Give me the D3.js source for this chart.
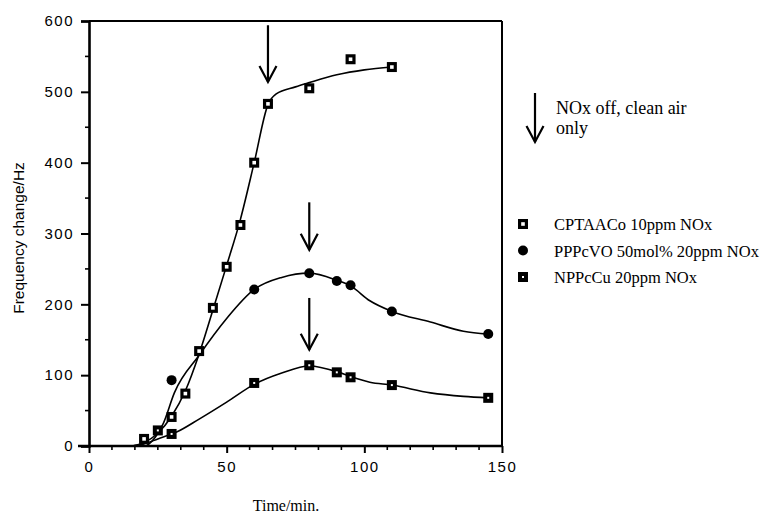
<!DOCTYPE html>
<html><head><meta charset="utf-8">
<script src="https://cdn.jsdelivr.net/npm/d3@7"></script>
<style>body{margin:0;background:#fff}svg{display:block}</style>
</head><body><svg id="c" width="769" height="515"></svg>
<script>
// ---- data ----
const seriesNames = ["CPTAACo 10ppm NOx", "PPPcVO 50mol% 20ppm NOx", "NPPcCu 20ppm NOx"];
const cptTime = [20, 30, 35, 40, 45, 50, 55, 60, 65, 80, 95, 110];
const cptFreq = [10, 41, 74, 134, 195, 253, 312, 400, 483, 505, 546, 535];
const pppTime = [30, 60, 80, 90, 95, 110, 145];
const pppFreq = [93, 221, 244, 233, 227, 190, 158];
const nppTime = [25, 30, 60, 80, 90, 95, 110, 145];
const nppFreq = [22, 17, 89, 114, 104, 97, 86, 68];
// fitted curves
const cptFitT = [8, 15, 20, 25, 30, 35, 40, 45, 50, 55, 60, 65, 68, 75, 80, 90, 100, 110];
const cptFitF = [0, 0, 5, 18, 42, 78, 130, 192, 255, 320, 400, 482, 497, 507, 513, 524, 531, 535];
const pppFitT = [8, 20, 24, 27, 31, 40, 50, 60, 70, 80, 90, 95, 102, 110, 124, 136, 145];
const pppFitF = [0, 0, 12, 32, 75, 128, 180, 221, 238, 244, 234, 226, 205, 190, 175, 162, 158];
const nppFitT = [8, 15, 20, 25, 32, 40, 50, 60, 70, 80, 90, 95, 102, 110, 124, 136, 145];
const nppFitF = [0, 0, 3, 10, 20, 38, 62, 87, 103, 113, 105, 98, 90, 86, 75, 70, 68];
const arrowTimes = [65, 80, 80];
const arrowFrom = [594, 344, 209];
const arrowTo = [514, 277, 136];
const xTicks = [0, 50, 100, 150];
const yTicks = [0, 100, 200, 300, 400, 500, 600];
const xTitle = "Time/min.";
const yTitle = "Frequency change/Hz";
const noteLines = ["NOx off, clean air", "only"];

// ---- drawing ----
const svg = d3.select("#c");
const x = d3.scaleLinear().domain([0, 150]).range([89, 502]);
const y = d3.scaleLinear().domain([0, 600]).range([446, 21]);

const sansTick = "'Liberation Sans', Arial, sans-serif";
const serif = "'Liberation Serif', 'Times New Roman', serif";

// frame top and right
svg.append("line").attr("x1", x(0)).attr("x2", x(150)).attr("y1", y(600)).attr("y2", y(600)).attr("stroke", "#000").attr("stroke-width", 2);
svg.append("line").attr("x1", x(150)).attr("x2", x(150)).attr("y1", y(600)).attr("y2", y(0)).attr("stroke", "#000").attr("stroke-width", 2);

// minor ticks
const xMinor = d3.range(0, 151, 25 / 3).filter(v => Math.abs(v / 50 - Math.round(v / 50)) > 1e-6);
svg.append("g").selectAll("line").data(xMinor).join("line")
  .attr("x1", d => x(d)).attr("x2", d => x(d)).attr("y1", y(0)).attr("y2", y(0) + 4)
  .attr("stroke", "#000").attr("stroke-width", 1.6);
const yMinor = d3.range(50, 600, 100);
svg.append("g").selectAll("line").data(yMinor).join("line")
  .attr("x1", x(0) - 4).attr("x2", x(0)).attr("y1", d => y(d)).attr("y2", d => y(d))
  .attr("stroke", "#000").attr("stroke-width", 1.6);

// axes
const xAxis = d3.axisBottom(x).tickValues(xTicks).tickSize(7).tickPadding(8).tickFormat(d3.format("d"));
const gx = svg.append("g").attr("transform", `translate(0,${y(0)})`).call(xAxis);
const yAxis = d3.axisLeft(y).tickValues(yTicks).tickSize(8).tickPadding(7).tickFormat(d3.format("d"));
const gy = svg.append("g").attr("transform", `translate(${x(0)},0)`).call(yAxis);
[gx, gy].forEach(g => {
  g.select(".domain").attr("stroke-width", 2.6).attr("stroke", "#000");
  g.selectAll(".tick line").attr("stroke-width", 2).attr("stroke", "#000");
  g.selectAll(".tick text").attr("font-family", sansTick).attr("font-size", 15)
    .attr("fill", "#000").style("letter-spacing", "1.5px");
});
gx.select(".domain").attr("d", `M${x(0) - 11},0H${x(150)}`);

// axis titles
svg.append("text").attr("x", 286).attr("y", 511).attr("text-anchor", "middle")
  .attr("font-family", serif).attr("font-size", 16).text(xTitle);
svg.append("text").attr("transform", "translate(24,238) rotate(-90)").attr("text-anchor", "middle")
  .attr("font-family", "'Liberation Sans', Arial, sans-serif").attr("font-size", 15.5).text(yTitle);

// curves
const line = d3.line().x(d => x(d[0])).y(d => y(d[1])).curve(d3.curveMonotoneX);
const fits = [d3.zip(cptFitT, cptFitF), d3.zip(pppFitT, pppFitF), d3.zip(nppFitT, nppFitF)];
svg.append("g").selectAll("path").data(fits).join("path")
  .attr("d", line).attr("fill", "none").attr("stroke", "#000").attr("stroke-width", 1.6);

// markers
function marker(g, kind, cx, cy) {
  if (kind === 0) {
    g.append("rect").attr("x", cx - 5).attr("y", cy - 5).attr("width", 10).attr("height", 10).attr("fill", "#000");
    g.append("rect").attr("x", cx - 1.8).attr("y", cy - 1.8).attr("width", 3.6).attr("height", 3.6).attr("fill", "#fff");
  } else if (kind === 1) {
    g.append("circle").attr("cx", cx).attr("cy", cy).attr("r", 5).attr("fill", "#000");
  } else {
    g.append("rect").attr("x", cx - 5).attr("y", cy - 5).attr("width", 10).attr("height", 10).attr("fill", "#000");
    g.append("rect").attr("x", cx - 1).attr("y", cy - 1).attr("width", 2).attr("height", 2).attr("fill", "#fff");
  }
}
const gm = svg.append("g");
d3.zip(cptTime, cptFreq).forEach(d => marker(gm, 0, x(d[0]), y(d[1])));
d3.zip(pppTime, pppFreq).forEach(d => marker(gm, 1, x(d[0]), y(d[1])));
d3.zip(nppTime, nppFreq).forEach(d => marker(gm, 2, x(d[0]), y(d[1])));

// arrows
function arrow(g, px, y1, y2) {
  g.append("line").attr("x1", px).attr("x2", px).attr("y1", y1).attr("y2", y2).attr("stroke", "#000").attr("stroke-width", 2.2);
  g.append("path").attr("d", `M${px - 8.5},${y2 - 16}L${px},${y2}L${px + 8.5},${y2 - 16}`)
    .attr("fill", "none").attr("stroke", "#000").attr("stroke-width", 2.2);
}
const ga = svg.append("g");
arrowTimes.forEach((t, i) => arrow(ga, x(t), y(arrowFrom[i]), y(arrowTo[i])));

// legend
const lg = svg.append("g");
arrow(lg, 535, 93, 142);
lg.selectAll("text.note").data(noteLines).join("text").attr("class", "note")
  .attr("x", 556).attr("y", (d, i) => 114 + i * 20)
  .attr("font-family", serif).attr("font-size", 18).text(d => d);
seriesNames.forEach((s, i) => {
  const cy = 224 + i * 26.5;
  marker(lg, i, 523, cy);
  lg.append("text").attr("x", 554).attr("y", cy + 6).attr("font-family", serif).attr("font-size", 16.5).text(s);
});
</script></body></html>
